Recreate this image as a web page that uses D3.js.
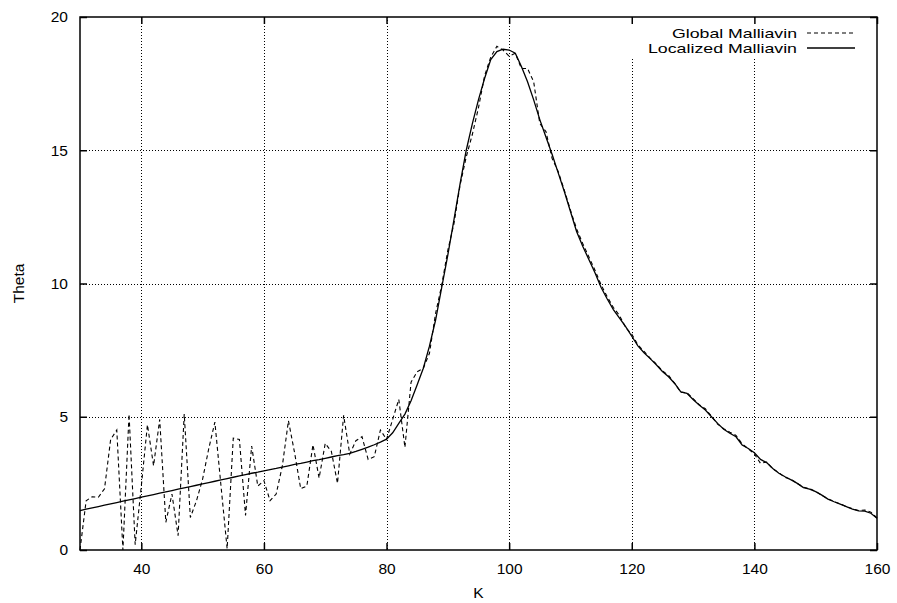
<!DOCTYPE html>
<html>
<head>
<meta charset="utf-8">
<script src="https://cdn.jsdelivr.net/npm/d3@7"></script>
<style>
  body { margin: 0; background: #fff; }
  svg { display: block; font-family: "Liberation Sans", Arial, Helvetica, sans-serif; }
</style>
</head>
<body>
<svg id="chart" width="897" height="603"></svg>
<script>
// ---- data ----
const kStart = 30;
const globalMalliavin = [
  0.0, 1.85, 2.0, 1.98, 2.3, 4.15, 4.5, 0.0, 5.1, 0.2,          // 30-39
  2.4, 4.7, 3.16, 4.9, 1.04, 2.1, 0.54, 5.1, 1.22, 1.85,        // 40-49
  2.66, 3.8, 4.8, 2.4, 0.05, 4.2, 4.15, 1.3, 3.9, 2.4,          // 50-59
  2.6, 1.85, 2.1, 3.15, 4.85, 3.65, 2.3, 2.4, 3.95, 2.7,        // 60-69
  4.0, 3.7, 2.5, 5.05, 3.6, 4.1, 4.25, 3.4, 3.5, 4.5,           // 70-79
  4.15, 4.9, 5.65, 3.85, 6.3, 6.69, 6.82, 7.38, 8.88, 9.94,     // 80-89
  11.25, 12.25, 13.7, 14.75, 15.6, 16.6, 17.8, 18.5, 18.9, 18.76, // 90-99
  18.53, 18.64, 18.07, 18.07, 17.57, 16.0, 15.7, 14.7, 14.2, 13.5, // 100-109
  12.75, 12.05, 11.5, 11.0, 10.5, 9.95, 9.5, 9.1, 8.8, 8.35,    // 110-119
  8.1, 7.7, 7.45, 7.2, 6.98, 6.72, 6.55, 6.25, 5.92, 5.9,       // 120-129
  5.68, 5.45, 5.3, 5.02, 4.72, 4.55, 4.42, 4.3, 3.98, 3.8,      // 130-139
  3.6, 3.25, 3.3, 3.05, 2.9, 2.72, 2.65, 2.5, 2.36, 2.3,        // 140-149
  2.2, 2.05, 1.92, 1.82, 1.73, 1.63, 1.55, 1.48, 1.5, 1.42,     // 150-159
  1.2                                                            // 160
];
const localizedMalliavin = [
  1.48, 1.53, 1.58, 1.63, 1.68, 1.73, 1.78, 1.83, 1.88, 1.93,   // 30-39
  1.98, 2.03, 2.08, 2.13, 2.18, 2.23, 2.28, 2.33, 2.38, 2.43,   // 40-49
  2.48, 2.53, 2.58, 2.63, 2.68, 2.73, 2.78, 2.83, 2.88, 2.92,   // 50-59
  2.97, 3.02, 3.06, 3.11, 3.16, 3.21, 3.25, 3.30, 3.35, 3.39,   // 60-69
  3.44, 3.49, 3.54, 3.58, 3.63, 3.70, 3.78, 3.86, 3.95, 4.05,   // 70-79
  4.16, 4.4, 4.75, 5.1, 5.6, 6.2, 6.82, 7.65, 8.63, 9.85,       // 80-89
  11.07, 12.4, 13.75, 15.0, 16.0, 16.9, 17.7, 18.4, 18.7, 18.79, // 90-99
  18.76, 18.64, 18.14, 17.57, 16.89, 16.15, 15.5, 14.85, 14.15, 13.45, // 100-109
  12.7, 11.95, 11.4, 10.9, 10.4, 9.85, 9.42, 9.02, 8.7, 8.38,   // 110-119
  8.02, 7.66, 7.4, 7.18, 6.95, 6.7, 6.5, 6.25, 5.93, 5.88,      // 120-129
  5.65, 5.44, 5.25, 5.0, 4.75, 4.53, 4.38, 4.25, 3.94, 3.81,    // 130-139
  3.65, 3.4, 3.28, 3.06, 2.88, 2.75, 2.63, 2.5, 2.34, 2.28,     // 140-149
  2.19, 2.06, 1.91, 1.81, 1.72, 1.63, 1.53, 1.47, 1.46, 1.38,   // 150-159
  1.19                                                           // 160
];
const xTicks = [40, 60, 80, 100, 120, 140, 160];
const yTicks = [0, 5, 10, 15, 20];
const xDomain = [30, 160];
const yDomain = [0, 20];
const seriesNames = ["Global Malliavin", "Localized Malliavin"];
const xTitle = "K";
const yTitle = "Theta";

// ---- layout ----
const W = 897, H = 603;
const m = { left: 80, right: 20, top: 17, bottom: 53 };
const pw = W - m.left - m.right, ph = H - m.top - m.bottom;

const svg = d3.select("#chart");
const g = svg.append("g").attr("transform", `translate(${m.left},${m.top})`);

const x = d3.scaleLinear().domain(xDomain).range([0, pw]);
const y = d3.scaleLinear().domain(yDomain).range([ph, 0]);

// grid
const grid = g.append("g").attr("stroke", "#000").attr("stroke-width", 1)
  .attr("stroke-dasharray", "1,2").attr("shape-rendering", "crispEdges");
grid.selectAll("line.gx").data(xTicks.filter(d => d > xDomain[0] && d < xDomain[1])).join("line")
  .attr("x1", d => Math.round(x(d)) + 0.5).attr("x2", d => Math.round(x(d)) + 0.5)
  .attr("y1", 0).attr("y2", ph);
grid.selectAll("line.gy").data(yTicks.filter(d => d > yDomain[0] && d < yDomain[1])).join("line")
  .attr("y1", d => Math.round(y(d)) + 0.5).attr("y2", d => Math.round(y(d)) + 0.5)
  .attr("x1", 0).attr("x2", pw);

// legend background (blanks grid behind key)
g.append("rect").attr("x", 540).attr("y", 2).attr("width", pw - 541).attr("height", 40).attr("fill", "#fff");

// lines
const mk = arr => arr.map((v, i) => ({ k: kStart + i, v }));
const line = d3.line().x(d => x(d.k)).y(d => y(d.v));
g.append("path").datum(mk(globalMalliavin)).attr("d", line)
  .attr("fill", "none").attr("stroke", "#000").attr("stroke-width", 1.1)
  .attr("stroke-dasharray", "4,3");
g.append("path").datum(mk(localizedMalliavin)).attr("d", line)
  .attr("fill", "none").attr("stroke", "#000").attr("stroke-width", 1.3);

// axes
const fontSize = 15.5;
const ax = g.append("g").attr("transform", `translate(0,${ph})`)
  .call(d3.axisBottom(x).tickValues(xTicks).tickSizeInner(-7).tickSizeOuter(0).tickPadding(13));
const ay = g.append("g")
  .call(d3.axisLeft(y).tickValues(yTicks).tickSizeInner(-7).tickSizeOuter(0).tickPadding(12));
const at = g.append("g")
  .call(d3.axisTop(x).tickValues(xTicks).tickSizeInner(-7).tickSizeOuter(0).tickFormat(""));
const ar = g.append("g").attr("transform", `translate(${pw},0)`)
  .call(d3.axisRight(y).tickValues(yTicks).tickSizeInner(-7).tickSizeOuter(0).tickFormat(""));
[ax, ay, at, ar].forEach(a => {
  a.select(".domain").remove();
  a.selectAll(".tick line").attr("stroke", "#000").attr("stroke-width", 1.5);
  a.selectAll(".tick text").attr("font-size", fontSize).attr("fill", "#000")
    .attr("font-family", "'Liberation Sans', Arial, sans-serif");
});

// frame
g.append("rect").attr("x", 0).attr("y", 0).attr("width", pw).attr("height", ph)
  .attr("fill", "none").attr("stroke", "#000").attr("stroke-width", 1.5);

// axis titles
svg.append("text").attr("x", m.left + pw / 2).attr("y", 598).attr("text-anchor", "middle")
  .attr("font-size", 15.5).text(xTitle);
svg.append("text").attr("transform", `translate(24,${m.top + ph / 2}) rotate(-90)`)
  .attr("text-anchor", "middle").attr("font-size", 15.5).text(yTitle);

// legend
const legendTextRight = 797, legX1 = 807, legX2 = 855;
const legend = svg.append("g");
const widths = [125, 149];
seriesNames.forEach((name, i) => {
  const base = 38 + i * 15;
  legend.append("text").attr("x", legendTextRight).attr("y", base).attr("text-anchor", "end")
    .attr("font-size", 13.5).attr("textLength", widths[i]).attr("lengthAdjust", "spacingAndGlyphs")
    .text(name);
  legend.append("line").attr("x1", legX1).attr("x2", legX2).attr("y1", base - 5).attr("y2", base - 5)
    .attr("stroke", "#000").attr("stroke-width", i === 0 ? 1.1 : 1.3)
    .attr("stroke-dasharray", i === 0 ? "4,3" : null);
});
</script>
</body>
</html>
